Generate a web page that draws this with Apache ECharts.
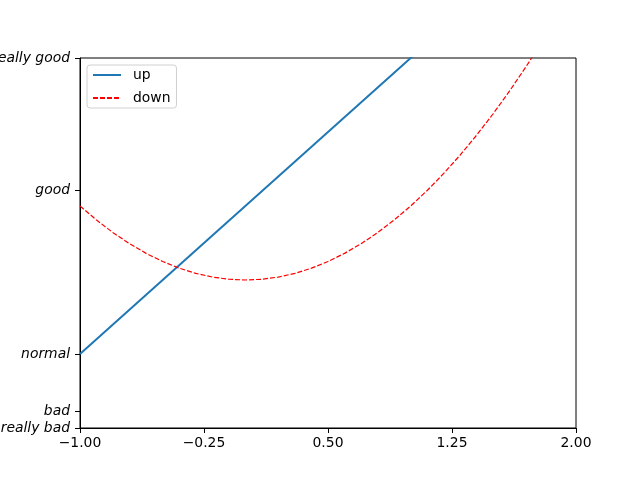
<!DOCTYPE html>
<html>
<head>
<meta charset="utf-8">
<script src="https://cdn.jsdelivr.net/npm/echarts@6/dist/echarts.min.js"></script>
<style>
  html, body { margin: 0; padding: 0; background: #fff; }
  #chart { width: 640px; height: 480px; }
</style>
</head>
<body>
<div id="chart"></div>
<script>
const upX = [-1, 1.1]
const upY = [-2, 2.2]
const downX = [-1, -0.9, -0.8, -0.7, -0.6, -0.5, -0.4, -0.3, -0.2, -0.1, 0, 0.1, 0.2, 0.3, 0.4, 0.5, 0.6, 0.7, 0.8, 0.9, 1.0, 1.1, 1.2, 1.3, 1.4, 1.5, 1.6, 1.7, 1.8]
const downY = [0, -0.19, -0.36, -0.51, -0.64, -0.75, -0.84, -0.91, -0.96, -0.99, -1, -0.99, -0.96, -0.91, -0.84, -0.75, -0.64, -0.51, -0.36, -0.19, 0, 0.21, 0.44, 0.69, 0.96, 1.25, 1.56, 1.89, 2.24]
const yTickValues = [-3, -2.78, -2, 0.21, 2]
const yTickLabels = ['really bad', 'bad', 'normal', 'good', 'really good']
const xTickValues = [-1, -0.25, 0.5, 1.25, 2]

const font = 'DejaVu Sans'
const chart = echarts.init(document.getElementById('chart'))

const pairs = (xs, ys) => xs.map((x, i) => [x, ys[i]])

chart.setOption({
  animation: false,
  backgroundColor: '#fff',
  grid: {
    left: 80, right: 64, top: 58, bottom: 52,
    outerBoundsMode: 'none',
    containLabel: false,
    show: true, borderColor: '#000', borderWidth: 1, backgroundColor: 'transparent',
  },
  legend: {
    orient: 'vertical',
    left: 87, top: 65,
    padding: [3, 6, 3, 5],
    itemWidth: 28, itemHeight: 14, itemGap: 9,
    borderColor: '#d0d0d0', borderWidth: 1, borderRadius: 3,
    itemStyle: { opacity: 0 },
    textStyle: { fontFamily: font, fontSize: 13.9, color: '#000', padding: [0, 0, 0, 7] },
    data: ['up', 'down'],
  },
  xAxis: {
    type: 'value',
    min: -1, max: 2, interval: 0.75,
    splitLine: { show: false },
    axisLine: { show: true, onZero: false, lineStyle: { color: '#000', width: 1 } },
    axisTick: { show: true, length: 5, lineStyle: { color: '#000' } },
    axisLabel: {
      margin: 8,
      fontFamily: font, fontSize: 13.9, color: '#000',
      customValues: xTickValues,
      formatter: v => v.toFixed(2).replace('-', '\u2212'),
    },
  },
  yAxis: {
    type: 'value',
    min: -3, max: 2,
    splitLine: { show: false },
    axisLine: { show: true, onZero: false, lineStyle: { color: '#000', width: 1 } },
    axisTick: { show: true, length: 5, lineStyle: { color: '#000' }, customValues: yTickValues },
    axisLabel: {
      margin: 10,
      fontFamily: font, fontSize: 13.9, fontStyle: 'italic', color: '#000',
      customValues: yTickValues,
      formatter: v => {
        const i = yTickValues.indexOf(v)
        return i >= 0 ? yTickLabels[i] : ''
      },
    },
  },
  series: [
    {
      name: 'up',
      type: 'line',
      data: pairs(upX, upY),
      showSymbol: false, symbol: 'none',
      color: '#1f77b4',
      lineStyle: { color: '#1f77b4', width: 2 },
      clip: true,
    },
    {
      name: 'down',
      type: 'line',
      data: pairs(downX, downY),
      showSymbol: false, symbol: 'none',
      color: '#ff0000',
      lineStyle: { color: '#ff0000', width: 1.2, type: [5, 2] },
      clip: true,
    },
  ],
})
</script>
</body>
</html>
